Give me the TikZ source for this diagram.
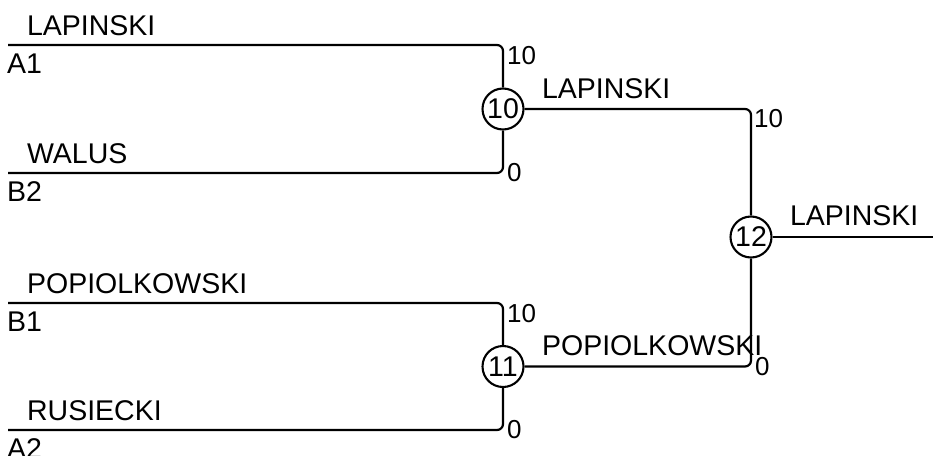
\documentclass[tikz,border=0pt]{standalone}
\usepackage{fontspec}
\setmainfont{Liberation Sans}
\begin{document}
\begin{tikzpicture}[x=1pt,y=-1pt, line width=2.2pt,
 namelbl/.style={font=\fontsize{28.5}{30}\selectfont, anchor=base west, inner sep=0pt},
 numlbl/.style={font=\fontsize{26}{28}\selectfont, anchor=west, inner sep=0pt},
 match/.style={circle, draw, line width=2.1pt, minimum size=41pt, inner sep=0pt, font=\fontsize{28.5}{30}\selectfont},
 wire/.style={rounded corners=6pt}]
\useasboundingbox (0,0) rectangle (933,455);
\node[match] (m10) at (503,109) {10};
\node[match] (m11) at (503,366.5) {11};
\node[match] (m12) at (751,237) {12};
\coordinate (a1) at (8,45);
\coordinate (b2) at (8,173);
\coordinate (b1) at (8,303);
\coordinate (a2) at (8,430);
\coordinate (out) at (933,237);
\draw[wire] (a1) -| (m10.north);
\draw[wire] (b2) -| (m10.south);
\draw[wire] (b1) -| (m11.north);
\draw[wire] (a2) -| (m11.south);
\draw[wire] (m10.east) -| (m12.north);
\draw[wire] (m11.east) -| (m12.south);
\draw (m12.east) -- (out);
% names
\node[namelbl] (n1) at (26,35) {LAPINSKI};
\node[namelbl] (s1) at (6,73) {A1};
\node[namelbl] (n2) at (26,163) {WALUS};
\node[namelbl] (s2) at (6,201) {B2};
\node[namelbl] (n3) at (26,293) {POPIOLKOWSKI};
\node[namelbl] (s3) at (6,331) {B1};
\node[namelbl] (n4) at (26,420) {RUSIECKI};
\node[namelbl] (s4) at (6,458) {A2};
\node[namelbl] (w1) at (541,98) {LAPINSKI};
\node[namelbl] (w2) at (541,355) {POPIOLKOWSKI};
\node[namelbl] (w3) at (789,225) {LAPINSKI};
% scores
\node[numlbl] (c1) at (506,56) {10};
\node[numlbl] (c2) at (506,173) {0};
\node[numlbl] (c3) at (506,314) {10};
\node[numlbl] (c4) at (506,430) {0};
\node[numlbl] (c5) at (753,119) {10};
\node[numlbl] (c6) at (754,367) {0};
\end{tikzpicture}
\end{document}
